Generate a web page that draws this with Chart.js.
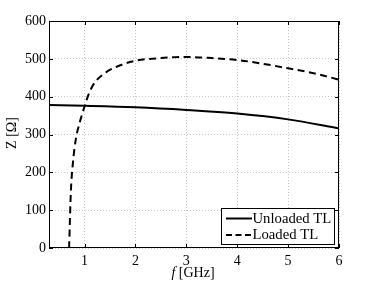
<!DOCTYPE html>
<html>
<head>
<meta charset="utf-8">
<script src="https://cdn.jsdelivr.net/npm/chart.js@4/dist/chart.umd.min.js"></script>
<style>
  html, body { margin: 0; padding: 0; background: #fff; }
  #wrap { width: 374px; height: 281px; }
</style>
</head>
<body>
<div id="wrap"><canvas id="myChart" width="374" height="281"></canvas></div>
<script>
// valores
const freqUnloaded = [0.3, 1, 2, 3, 4, 5, 6];
const zUnloaded    = [378, 376, 372, 365, 355.5, 340, 316];

const freqLoaded = [0.695, 0.73, 0.77, 0.83, 0.88, 0.95, 1.0, 1.075, 1.15, 1.24, 1.44, 1.7, 2.0, 2.5, 3.0, 3.5, 4.0, 4.5, 5.0, 5.5, 6.0];
const zLoaded    = [0, 150, 225, 290, 320, 353, 375, 405, 427, 444, 466, 483, 495, 502, 505, 502, 497, 487, 475, 462, 445];

const xTicks = [1, 2, 3, 4, 5, 6];
const yTicks = [0, 100, 200, 300, 400, 500, 600];
const seriesNames = ['Unloaded TL', 'Loaded TL'];

const FONT = '"Liberation Serif", "Times New Roman", serif';

function toPoints(xs, ys) {
    return xs.map(function (x, i) { return { x: x, y: ys[i] }; });
}

// marco, ticks hacia adentro, titulos y leyenda
const matlabLook = {
    id: 'matlabLook',
    afterDatasetsDraw: function (chart) {
        const ctx = chart.ctx;
        const a = chart.chartArea;
        const sx = chart.scales.x;
        const sy = chart.scales.y;
        ctx.save();
        ctx.strokeStyle = '#000';
        ctx.lineWidth = 1;
        ctx.strokeRect(a.left + 0.5, a.top + 0.5, a.right - a.left - 1, a.bottom - a.top - 1);
        ctx.beginPath();
        xTicks.forEach(function (t) {
            const px = Math.round(sx.getPixelForValue(t)) + 0.5;
            ctx.moveTo(px, a.bottom); ctx.lineTo(px, a.bottom - 4);
            ctx.moveTo(px, a.top); ctx.lineTo(px, a.top + 4);
        });
        yTicks.forEach(function (t) {
            const py = Math.round(sy.getPixelForValue(t)) + 0.5;
            ctx.moveTo(a.left, py); ctx.lineTo(a.left + 4, py);
            ctx.moveTo(a.right, py); ctx.lineTo(a.right - 4, py);
        });
        ctx.stroke();

        // titulo eje x
        ctx.fillStyle = '#000';
        ctx.textBaseline = 'middle';
        ctx.textAlign = 'left';
        ctx.font = 'italic 14px ' + FONT;
        const fW = ctx.measureText('f').width;
        ctx.font = '14px ' + FONT;
        const restW = ctx.measureText(' [GHz]').width;
        let x0 = 193 - (fW + restW) / 2;
        ctx.font = 'italic 14px ' + FONT;
        ctx.fillText('f', x0, 273);
        ctx.font = '14px ' + FONT;
        ctx.fillText(' [GHz]', x0 + fW, 273);

        // titulo eje y
        ctx.save();
        ctx.translate(12, 133);
        ctx.rotate(-Math.PI / 2);
        ctx.textAlign = 'center';
        ctx.fillText('Z [\u03A9]', 0, 0);
        ctx.restore();

        // leyenda
        const lx = 221, ly = 208, lw = 113, lh = 36;
        ctx.fillStyle = '#fff';
        ctx.fillRect(lx, ly, lw, lh);
        ctx.strokeStyle = '#000';
        ctx.strokeRect(lx + 0.5, ly + 0.5, lw, lh);
        ctx.lineWidth = 2;
        ctx.beginPath();
        ctx.moveTo(226, 218.5); ctx.lineTo(252, 218.5);
        ctx.stroke();
        ctx.setLineDash([6, 3.5]);
        ctx.beginPath();
        ctx.moveTo(226, 235); ctx.lineTo(252, 235);
        ctx.stroke();
        ctx.setLineDash([]);
        ctx.fillStyle = '#000';
        ctx.textAlign = 'left';
        ctx.font = '14.7px ' + FONT;
        ctx.fillText(seriesNames[0], 252.5, 219);
        ctx.fillText(seriesNames[1], 252.5, 235.5);
        ctx.restore();
    }
};

const ctx = document.getElementById('myChart');
const myChart = new Chart(ctx, {
    type: 'scatter',
    data: {
        datasets: [{
            label: seriesNames[0],
            data: toPoints(freqUnloaded, zUnloaded),
            showLine: true,
            borderColor: '#000',
            borderWidth: 2,
            pointRadius: 0,
            cubicInterpolationMode: 'monotone'
        }, {
            label: seriesNames[1],
            data: toPoints(freqLoaded, zLoaded),
            showLine: true,
            borderColor: '#000',
            borderWidth: 2,
            borderDash: [7, 4.5],
            pointRadius: 0,
            cubicInterpolationMode: 'monotone'
        }]
    },
    options: {
        responsive: false,
        animation: false,
        layout: { padding: { top: 21, right: 35, left: 0, bottom: 0 } },
        plugins: {
            legend: { display: false },
            tooltip: { enabled: false }
        },
        scales: {
            x: {
                type: 'linear',
                min: 0.3,
                max: 6,
                afterBuildTicks: function (s) { s.ticks = xTicks.map(function (v) { return { value: v }; }); },
                afterFit: function (s) { s.height = 33; },
                grid: { color: '#c8c8c8', drawTicks: false, lineWidth: 1 },
                border: { display: false, dash: [1, 2] },
                ticks: {
                    color: '#000',
                    padding: 5,
                    maxRotation: 0,
                    font: { family: FONT, size: 14 }
                }
            },
            y: {
                min: 0,
                max: 600,
                afterBuildTicks: function (s) { s.ticks = yTicks.map(function (v) { return { value: v }; }); },
                afterFit: function (s) { s.width = 49; },
                grid: { color: '#c8c8c8', drawTicks: false, lineWidth: 1 },
                border: { display: false, dash: [1, 2] },
                ticks: {
                    color: '#000',
                    padding: 3,
                    font: { family: FONT, size: 14 }
                }
            }
        }
    },
    plugins: [matlabLook]
});
</script>
</body>
</html>
